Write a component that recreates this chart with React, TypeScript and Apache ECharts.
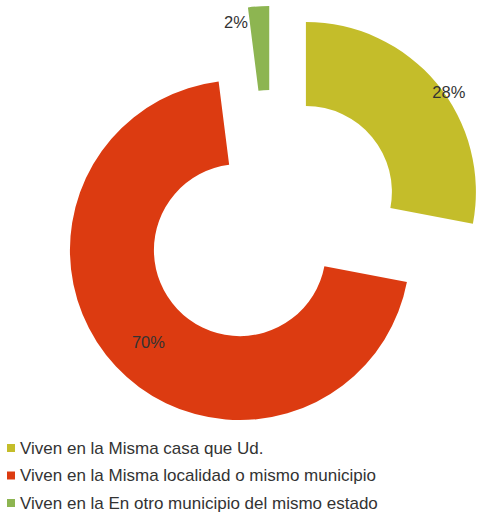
import React, { useEffect, useRef } from "react";
import * as echarts from "echarts";

const categories = [
  "Viven en la Misma casa que Ud.",
  "Viven en la Misma localidad o mismo municipio",
  "Viven en la En otro municipio del mismo estado",
];
const values = [28, 70, 2];
const colors = ["#c4bd2a", "#dc3b11", "#8db551"];
const labelShift = [
  [42, -16],
  [4, 2],
  [-25, -23],
];

export default function App() {
  const ref = useRef<HTMLDivElement>(null);
  useEffect(() => {
    if (!ref.current) return;
    const chart = echarts.init(ref.current, undefined, { renderer: "svg" });
    chart.setOption({
      animation: false,
      backgroundColor: "#ffffff",
      color: colors,
      legend: {
        orient: "vertical",
        left: 2,
        top: 434,
        height: 120,
        icon: "rect",
        itemWidth: 8,
        itemHeight: 8,
        itemGap: 9.5,
        selectedMode: false,
        textStyle: {
          fontFamily: "Liberation Sans, Arial, sans-serif",
          fontSize: 17,
          lineHeight: 18,
          color: "#333333",
        },
        data: categories,
      },
      series: [
        {
          type: "pie",
          center: [272, 220],
          radius: [86, 170],
          startAngle: 90,
          clockwise: true,
          selectedMode: "multiple",
          selectedOffset: 44,
          avoidLabelOverlap: false,
          label: {
            show: true,
            position: "inside",
            formatter: "{c}%",
            fontFamily: "Liberation Sans, Arial, sans-serif",
            fontSize: 16.5,
            color: "#333333",
          },
          labelLine: { show: false },
          labelLayout: (p: any) => ({
            dx: labelShift[p.dataIndex][0],
            dy: labelShift[p.dataIndex][1],
          }),
          emphasis: { disabled: true },
          select: { label: { color: "#333333" } },
          data: categories.map((name, i) => ({
            name,
            value: values[i],
            selected: true,
            itemStyle: { color: colors[i], borderWidth: 0 },
            select: { itemStyle: { color: colors[i], borderWidth: 0 } },
          })),
        },
      ],
    });
    return () => chart.dispose();
  }, []);
  return (
    <div
      ref={ref}
      style={{ position: "absolute", left: 0, top: 0, width: 478, height: 513 }}
    />
  );
}
